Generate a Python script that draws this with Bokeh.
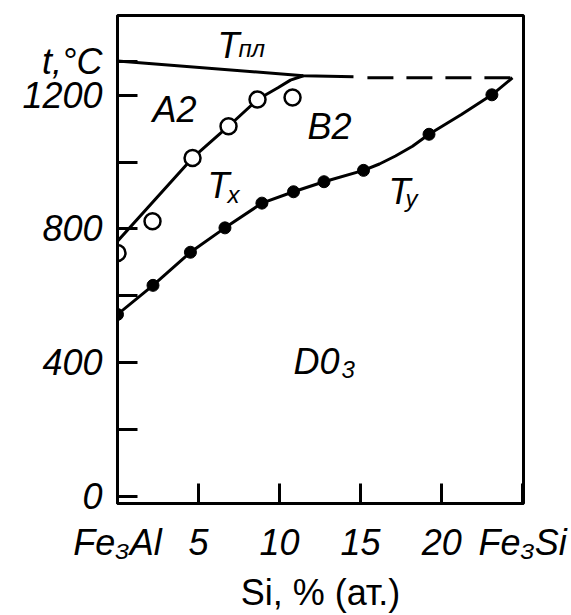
from bokeh.plotting import figure
from bokeh.models import Range1d, FixedTicker, Label, LinearAxis
from bokeh.embed import file_html
from bokeh.resources import INLINE

# ---------------- data ----------------
x_tick_values = [0, 5, 10, 15, 20, 25]
x_tick_labels = {0: "Fe₃Al", 5: "5", 10: "10", 15: "15", 20: "20", 25: "Fe₃Si"}
y_tick_values = [0, 200, 400, 600, 800, 1000, 1200, 1302]
y_tick_labels = {0: "0", 200: "", 400: "400", 600: "", 800: "800", 1000: "",
                 1200: "1200", 1302: "t,°C"}
x_title = "Si, % (ат.)"

# melting line T_пл (solid part) and dashed continuation
melt_x = [0, 11.47, 14.56]
melt_y = [1302, 1258, 1255]
melt_dash_x = [15.42, 24.37]
melt_dash_y = [1252, 1252]

# A2 <-> B2 transition (open circles) and its curve
a2b2_x = [0, 2.16, 4.63, 6.85, 8.64, 10.80]
a2b2_y = [728, 823, 1012, 1107, 1187, 1193]
a2b2_line_x = [0, 4.63, 6.85, 8.64, 9.9, 10.67, 11.47]
a2b2_line_y = [763, 1012, 1107, 1187, 1222, 1245, 1258]

# B2 <-> D0_3 transition (filled dots) and its curve
b2d0_x = [0, 2.19, 4.50, 6.63, 8.91, 10.86, 12.74, 15.18, 19.22, 23.10]
b2d0_y = [544, 631, 730, 803, 877, 911, 941, 975, 1083, 1201]
b2d0_line_x = [0, 2.19, 4.50, 6.63, 8.91, 10.86, 12.74, 15.18, 16.16, 17.15, 18.2,
               19.22, 21.22, 23.10, 24.37]
b2d0_line_y = [544, 631, 730, 803, 877, 911, 941, 975, 994, 1018, 1047,
               1083, 1142, 1201, 1252]

FONT = "Liberation Sans"
BIG = "36px"
SUB = "24px"

p = figure(width=571, height=615,
           x_range=Range1d(0, 25.05), y_range=Range1d(-21.6, 1438.3),
           x_axis_location=None, y_axis_location=None,
           output_backend="svg", toolbar_location=None)
p.min_border_left = 117
p.min_border_right = 48
p.min_border_top = 15
p.min_border_bottom = 107
p.outline_line_color = "black"
p.outline_line_width = 3
p.background_fill_color = "white"
p.border_fill_color = "white"
p.xgrid.visible = False
p.ygrid.visible = False

# left axis
yax = LinearAxis(ticker=FixedTicker(ticks=y_tick_values))
yax.major_label_overrides = y_tick_labels
yax.axis_line_width = 3
yax.major_tick_in = 20
yax.major_tick_out = 0
yax.major_tick_line_width = 3
yax.minor_tick_line_color = None
yax.major_label_text_font = FONT
yax.major_label_text_font_size = BIG
yax.major_label_text_font_style = "italic"
yax.major_label_text_color = "black"
yax.major_label_standoff = 15
p.add_layout(yax, "left")

# bottom axis
xax = LinearAxis(ticker=FixedTicker(ticks=x_tick_values))
xax.major_label_overrides = x_tick_labels
xax.axis_line_width = 3
xax.major_tick_in = 20
xax.major_tick_out = 0
xax.major_tick_line_width = 3
xax.minor_tick_line_color = None
xax.major_label_text_font = FONT
xax.major_label_text_font_size = BIG
xax.major_label_text_font_style = "italic"
xax.major_label_text_color = "black"
xax.major_label_standoff = 18
xax.axis_label = x_title
xax.axis_label_text_font = FONT
xax.axis_label_text_font_size = BIG
xax.axis_label_text_font_style = "normal"
xax.axis_label_text_color = "black"
xax.axis_label_standoff = 6
p.add_layout(xax, "below")

# curves
p.line(melt_x, melt_y, line_color="black", line_width=3)
p.line(melt_dash_x, melt_dash_y, line_color="black", line_width=3, line_dash="26 13")
p.line(a2b2_line_x, a2b2_line_y, line_color="black", line_width=3)
p.line(b2d0_line_x, b2d0_line_y, line_color="black", line_width=3)

# markers
p.scatter(b2d0_x, b2d0_y, marker="circle", size=12, fill_color="black", line_color="black")
p.scatter(a2b2_x, a2b2_y, marker="circle", size=16, fill_color="white",
          line_color="black", line_width=2.5)


def lab(x, y, text, size=BIG, style="italic", align="left"):
    p.add_layout(Label(x=x, y=y, text=text, text_font=FONT, text_font_size=size,
                       text_font_style=style, text_align=align,
                       text_baseline="alphabetic", text_color="black"))


lab(6.17, 1350, "T")
lab(7.46, 1341, "пл", size=SUB)
lab(2.16, 1157, "A2")
lab(11.72, 1107, "B2")
lab(5.55, 929, "T")
lab(6.79, 902, "x", size=SUB)
lab(16.72, 911, "T")
lab(17.77, 890, "y", size=SUB)
lab(10.86, 402, "D0")
lab(13.82, 379, "3", size=SUB)

open("out.html", "w").write(file_html(p, INLINE))
